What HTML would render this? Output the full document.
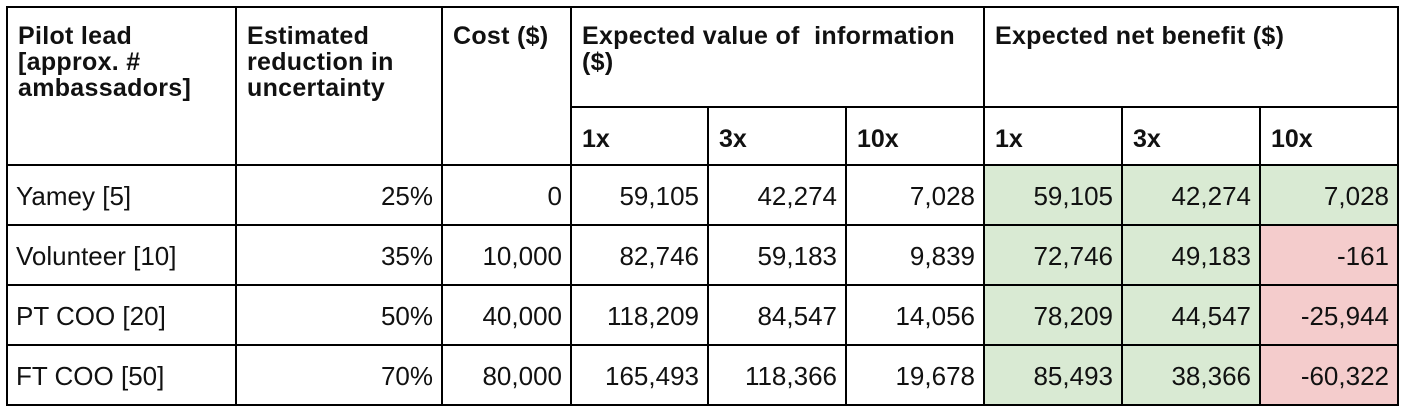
<!DOCTYPE html>
<html><head><style>
html,body{margin:0;padding:0;background:#fff;width:1408px;height:416px;overflow:hidden}
table{position:absolute;left:6px;top:6px;border-collapse:collapse;table-layout:fixed;font-family:"Liberation Sans",sans-serif;font-size:26px;color:#111}
td{border:2px solid #000;padding:0 10px;box-sizing:border-box;overflow:hidden;white-space:nowrap}
.h{font-weight:bold;font-size:25px;vertical-align:top;padding-top:15px;line-height:26px;letter-spacing:0.3px}
.s{font-weight:bold;font-size:25px;height:58px;vertical-align:middle;padding-top:6px}
.d td{height:60px;text-align:right;vertical-align:middle;padding-right:8px;padding-top:3px}
.d td:first-child{text-align:left;padding-left:8px}
.g{background:#d9ead3}.r{background:#f4cccc}
</style></head><body>
<table>
<colgroup><col style="width:229px"><col style="width:206px"><col style="width:129px"><col style="width:137px"><col style="width:138px"><col style="width:138px"><col style="width:138px"><col style="width:138px"><col style="width:138px"></colgroup>
<tr style="height:100px"><td class="h" rowspan="2">Pilot lead<br>[approx. #<br>ambassadors]</td><td class="h" rowspan="2">Estimated<br>reduction in<br>uncertainty</td><td class="h" rowspan="2">Cost ($)</td><td class="h" colspan="3">Expected value of&nbsp; information<br>($)</td><td class="h" colspan="3">Expected net benefit ($)</td></tr>
<tr><td class="s">1x</td><td class="s">3x</td><td class="s">10x</td><td class="s">1x</td><td class="s">3x</td><td class="s">10x</td></tr>
<tr class="d"><td>Yamey [5]</td><td>25%</td><td>0</td><td>59,105</td><td>42,274</td><td>7,028</td><td class="g">59,105</td><td class="g">42,274</td><td class="g">7,028</td></tr>
<tr class="d"><td>Volunteer [10]</td><td>35%</td><td>10,000</td><td>82,746</td><td>59,183</td><td>9,839</td><td class="g">72,746</td><td class="g">49,183</td><td class="r">-161</td></tr>
<tr class="d"><td>PT COO [20]</td><td>50%</td><td>40,000</td><td>118,209</td><td>84,547</td><td>14,056</td><td class="g">78,209</td><td class="g">44,547</td><td class="r">-25,944</td></tr>
<tr class="d"><td>FT COO [50]</td><td>70%</td><td>80,000</td><td>165,493</td><td>118,366</td><td>19,678</td><td class="g">85,493</td><td class="g">38,366</td><td class="r">-60,322</td></tr>
</table>
</body></html>
